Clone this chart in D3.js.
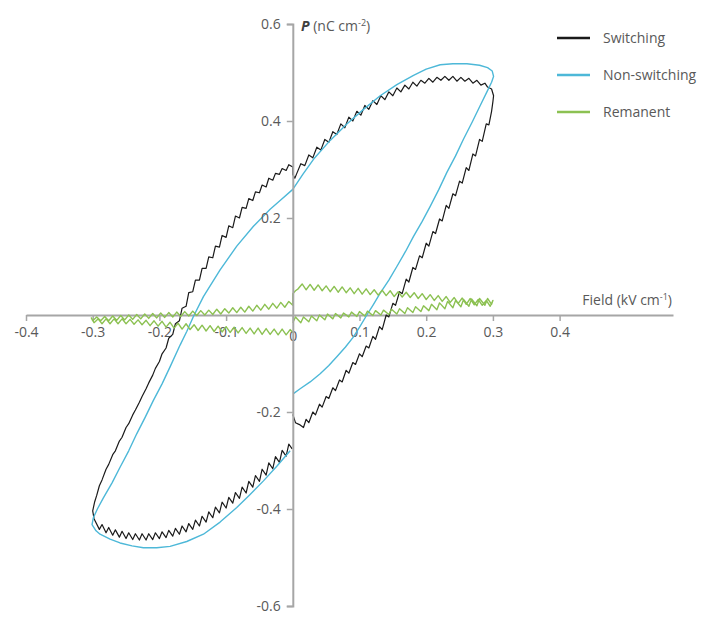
<!DOCTYPE html>
<html>
<head>
<meta charset="utf-8">
<script src="https://cdn.jsdelivr.net/npm/d3@7"></script>
<style>
  body { margin: 0; background: #fff; }
  svg text { font-family: "Open Sans", sans-serif; }
</style>
</head>
<body>
<svg id="chart" width="703" height="618"></svg>
<script>
// tick values
const xTicks = [-0.4, -0.3, -0.2, -0.1, 0, 0.1, 0.2, 0.3, 0.4];
const yTicks = [-0.6, -0.4, -0.2, 0.2, 0.4, 0.6];
const seriesNames = ["Switching", "Non-switching", "Remanent"];

// [field, polarisation], in drawing order
const switching = [
  [0.000,-0.205],[0.004,-0.222],[0.010,-0.226],[0.016,-0.232],[0.020,-0.215],[0.024,-0.222],
  [0.030,-0.200],[0.034,-0.206],[0.040,-0.184],[0.044,-0.190],[0.050,-0.168],[0.054,-0.172],
  [0.060,-0.150],[0.064,-0.156],[0.070,-0.134],[0.074,-0.138],[0.080,-0.114],[0.084,-0.120],
  [0.090,-0.098],[0.094,-0.102],[0.100,-0.080],[0.104,-0.086],[0.110,-0.064],[0.114,-0.068],
  [0.120,-0.044],[0.124,-0.050],[0.130,-0.024],[0.134,-0.030],[0.140,0.000],[0.144,-0.004],
  [0.150,0.024],[0.154,0.020],[0.160,0.048],[0.164,0.044],[0.170,0.074],[0.174,0.068],
  [0.180,0.098],[0.184,0.094],[0.190,0.122],[0.194,0.118],[0.200,0.148],[0.204,0.142],
  [0.210,0.172],[0.214,0.168],[0.220,0.198],[0.224,0.194],[0.230,0.226],[0.234,0.220],
  [0.240,0.250],[0.244,0.246],[0.250,0.276],[0.254,0.272],[0.260,0.304],[0.264,0.298],
  [0.270,0.332],[0.274,0.328],[0.280,0.362],[0.284,0.358],[0.290,0.394],[0.294,0.392],
  [0.298,0.420],[0.300,0.440],[0.301,0.452],
  [0.298,0.466],[0.292,0.470],[0.288,0.478],[0.282,0.474],[0.276,0.484],[0.270,0.478],
  [0.264,0.488],[0.258,0.482],[0.252,0.490],[0.246,0.482],[0.240,0.492],[0.234,0.484],
  [0.228,0.492],[0.222,0.484],[0.216,0.490],[0.210,0.480],[0.204,0.488],[0.198,0.478],
  [0.192,0.484],[0.186,0.472],[0.180,0.480],[0.174,0.466],[0.168,0.474],[0.162,0.460],
  [0.156,0.468],[0.150,0.452],[0.144,0.460],[0.138,0.444],[0.132,0.452],[0.126,0.434],
  [0.120,0.442],[0.114,0.424],[0.108,0.432],[0.102,0.412],[0.096,0.420],[0.090,0.400],
  [0.084,0.408],[0.078,0.386],[0.072,0.394],[0.066,0.372],[0.060,0.378],[0.054,0.356],
  [0.048,0.362],[0.042,0.340],[0.036,0.346],[0.030,0.324],[0.024,0.330],[0.018,0.308],
  [0.012,0.312],[0.006,0.292],[0.003,0.282],[0.000,0.290],
  [0.000,0.305],[-0.006,0.310],[-0.010,0.298],[-0.016,0.302],[-0.020,0.290],[-0.026,0.292],
  [-0.030,0.278],[-0.036,0.282],[-0.040,0.264],[-0.046,0.268],[-0.050,0.252],[-0.056,0.254],
  [-0.060,0.236],[-0.066,0.240],[-0.070,0.220],[-0.076,0.222],[-0.080,0.200],[-0.086,0.204],
  [-0.090,0.180],[-0.096,0.184],[-0.100,0.160],[-0.106,0.164],[-0.110,0.140],[-0.116,0.142],
  [-0.120,0.118],[-0.126,0.120],[-0.130,0.096],[-0.136,0.096],[-0.140,0.072],[-0.146,0.072],
  [-0.150,0.048],[-0.156,0.046],[-0.160,0.018],[-0.166,0.014],[-0.170,-0.012],[-0.176,-0.018],
  [-0.180,-0.040],[-0.186,-0.048],[-0.190,-0.068],[-0.196,-0.080],[-0.200,-0.096],[-0.206,-0.110],
  [-0.210,-0.124],[-0.216,-0.140],[-0.220,-0.152],[-0.226,-0.168],[-0.230,-0.180],[-0.236,-0.196],
  [-0.240,-0.206],[-0.246,-0.224],[-0.250,-0.232],[-0.256,-0.252],[-0.260,-0.260],[-0.266,-0.280],
  [-0.270,-0.288],[-0.276,-0.308],[-0.280,-0.318],[-0.286,-0.340],[-0.290,-0.352],[-0.294,-0.372],
  [-0.297,-0.385],[-0.300,-0.404],[-0.298,-0.420],
  [-0.290,-0.442],[-0.286,-0.432],[-0.280,-0.449],[-0.276,-0.438],[-0.270,-0.454],[-0.266,-0.443],
  [-0.260,-0.458],[-0.256,-0.446],[-0.250,-0.461],[-0.246,-0.449],[-0.240,-0.463],[-0.236,-0.451],
  [-0.230,-0.464],[-0.226,-0.451],[-0.220,-0.464],[-0.216,-0.451],[-0.210,-0.463],[-0.206,-0.449],
  [-0.200,-0.461],[-0.196,-0.447],[-0.190,-0.459],[-0.186,-0.444],[-0.180,-0.456],[-0.176,-0.440],
  [-0.170,-0.452],[-0.166,-0.435],[-0.160,-0.447],[-0.156,-0.430],[-0.150,-0.442],[-0.146,-0.423],
  [-0.140,-0.435],[-0.136,-0.415],[-0.130,-0.427],[-0.126,-0.406],[-0.120,-0.418],[-0.116,-0.396],
  [-0.110,-0.408],[-0.106,-0.386],[-0.100,-0.398],[-0.096,-0.376],[-0.090,-0.388],[-0.086,-0.366],
  [-0.080,-0.378],[-0.076,-0.355],[-0.070,-0.367],[-0.066,-0.343],[-0.060,-0.355],[-0.056,-0.331],
  [-0.050,-0.343],[-0.046,-0.318],[-0.040,-0.330],[-0.036,-0.305],[-0.030,-0.317],[-0.026,-0.292],
  [-0.020,-0.304],[-0.016,-0.279],[-0.010,-0.291],[-0.006,-0.266],[-0.001,-0.276]
];

const nonSwitching = [
  [0.001,-0.162],[0.011,-0.152],[0.026,-0.138],[0.041,-0.121],[0.054,-0.104],[0.066,-0.086],
  [0.079,-0.066],[0.091,-0.045],[0.101,-0.023],[0.111,0.000],[0.121,0.022],[0.131,0.045],
  [0.144,0.072],[0.156,0.100],[0.169,0.131],[0.181,0.162],[0.194,0.193],[0.206,0.224],
  [0.219,0.259],[0.231,0.294],[0.244,0.328],[0.256,0.363],[0.269,0.398],[0.281,0.432],
  [0.291,0.460],[0.298,0.480],[0.301,0.492],[0.299,0.503],[0.292,0.510],[0.280,0.515],
  [0.261,0.518],[0.240,0.518],[0.221,0.516],[0.200,0.507],[0.181,0.494],[0.156,0.475],
  [0.131,0.452],[0.106,0.424],[0.081,0.394],[0.056,0.360],[0.031,0.321],[0.015,0.290],
  [0.000,0.259],[-0.019,0.236],[-0.034,0.218],[-0.059,0.183],[-0.084,0.142],[-0.109,0.093],
  [-0.134,0.038],[-0.149,-0.003],[-0.159,-0.034],[-0.169,-0.062],[-0.184,-0.107],[-0.196,-0.142],
  [-0.209,-0.176],[-0.221,-0.210],[-0.234,-0.245],[-0.246,-0.280],[-0.259,-0.314],[-0.271,-0.346],
  [-0.284,-0.377],[-0.293,-0.400],[-0.299,-0.418],[-0.301,-0.432],[-0.295,-0.445],[-0.289,-0.452],
  [-0.274,-0.462],[-0.259,-0.470],[-0.241,-0.476],[-0.224,-0.480],[-0.204,-0.480],[-0.184,-0.477],
  [-0.159,-0.467],[-0.134,-0.452],[-0.109,-0.427],[-0.084,-0.397],[-0.064,-0.370],[-0.044,-0.342],
  [-0.024,-0.312],[-0.004,-0.280]
];

const remanent = [
  [0.000,-0.016],[0.004,-0.004],[0.012,-0.016],[0.016,-0.004],[0.024,-0.014],[0.028,-0.002],
  [0.036,-0.012],[0.040,0.000],[0.048,-0.010],[0.052,0.002],[0.060,-0.008],[0.064,0.003],
  [0.072,-0.006],[0.076,0.004],[0.084,-0.004],[0.088,0.006],[0.096,-0.003],[0.100,0.007],
  [0.108,-0.002],[0.112,0.008],[0.120,-0.001],[0.124,0.009],[0.132,0.000],[0.136,0.010],
  [0.144,0.001],[0.148,0.012],[0.156,0.002],[0.160,0.013],[0.168,0.003],[0.172,0.015],
  [0.180,0.005],[0.184,0.017],[0.192,0.007],[0.196,0.019],[0.204,0.009],[0.208,0.022],
  [0.216,0.011],[0.220,0.025],[0.228,0.013],[0.232,0.028],[0.240,0.015],[0.244,0.030],
  [0.252,0.017],[0.256,0.032],[0.264,0.018],[0.268,0.033],[0.276,0.019],[0.280,0.034],
  [0.288,0.020],[0.292,0.034],[0.298,0.022],[0.300,0.030],
  [0.296,0.018],[0.290,0.030],[0.284,0.020],[0.278,0.032],[0.272,0.021],[0.266,0.034],
  [0.260,0.022],[0.254,0.035],[0.248,0.024],[0.242,0.036],[0.236,0.026],[0.230,0.038],
  [0.224,0.028],[0.218,0.040],[0.212,0.030],[0.206,0.042],[0.200,0.032],[0.194,0.044],
  [0.188,0.034],[0.182,0.046],[0.176,0.036],[0.170,0.047],[0.164,0.037],[0.158,0.048],
  [0.152,0.038],[0.146,0.050],[0.140,0.040],[0.134,0.051],[0.128,0.041],[0.122,0.052],
  [0.116,0.042],[0.110,0.054],[0.104,0.043],[0.098,0.055],[0.092,0.044],[0.086,0.056],
  [0.080,0.046],[0.074,0.058],[0.068,0.047],[0.062,0.059],[0.056,0.048],[0.050,0.060],
  [0.044,0.050],[0.038,0.062],[0.032,0.051],[0.026,0.063],[0.020,0.052],[0.014,0.064],
  [0.008,0.054],[0.004,0.050],[0.000,0.044],[0.000,0.020],
  [-0.006,0.028],[-0.012,0.016],[-0.018,0.026],[-0.024,0.014],[-0.030,0.024],[-0.036,0.012],
  [-0.042,0.022],[-0.048,0.010],[-0.054,0.020],[-0.060,0.008],[-0.066,0.018],[-0.072,0.006],
  [-0.078,0.016],[-0.084,0.005],[-0.090,0.015],[-0.096,0.004],[-0.102,0.013],[-0.108,0.002],
  [-0.114,0.012],[-0.120,0.001],[-0.126,0.010],[-0.132,0.000],[-0.138,0.009],[-0.144,-0.001],
  [-0.150,0.008],[-0.156,-0.002],[-0.162,0.007],[-0.168,-0.003],[-0.174,0.006],[-0.180,-0.004],
  [-0.186,0.005],[-0.192,-0.005],[-0.198,0.004],[-0.204,-0.006],[-0.210,0.003],[-0.216,-0.007],
  [-0.222,0.002],[-0.228,-0.008],[-0.234,0.001],[-0.240,-0.009],[-0.246,0.000],[-0.252,-0.010],
  [-0.258,-0.001],[-0.264,-0.011],[-0.270,-0.002],[-0.276,-0.012],[-0.282,-0.003],[-0.288,-0.012],
  [-0.294,-0.004],[-0.300,-0.012],[-0.302,-0.006],
  [-0.298,-0.016],[-0.292,-0.008],[-0.286,-0.018],[-0.280,-0.008],[-0.274,-0.018],[-0.268,-0.008],
  [-0.262,-0.018],[-0.256,-0.008],[-0.250,-0.018],[-0.244,-0.009],[-0.238,-0.019],[-0.232,-0.010],
  [-0.226,-0.020],[-0.220,-0.011],[-0.214,-0.022],[-0.208,-0.012],[-0.202,-0.023],[-0.196,-0.013],
  [-0.190,-0.025],[-0.184,-0.015],[-0.178,-0.027],[-0.172,-0.017],[-0.166,-0.029],[-0.160,-0.018],
  [-0.154,-0.030],[-0.148,-0.020],[-0.142,-0.032],[-0.136,-0.021],[-0.130,-0.033],[-0.124,-0.022],
  [-0.118,-0.034],[-0.112,-0.023],[-0.106,-0.035],[-0.100,-0.024],[-0.094,-0.036],[-0.088,-0.025],
  [-0.082,-0.037],[-0.076,-0.026],[-0.070,-0.038],[-0.064,-0.027],[-0.058,-0.039],[-0.052,-0.027],
  [-0.046,-0.040],[-0.040,-0.028],[-0.034,-0.040],[-0.028,-0.029],[-0.022,-0.041],[-0.016,-0.029],
  [-0.010,-0.041],[-0.004,-0.030],[0.000,-0.036]
];

const colors = ["#1a1a1a", "#4db8d8", "#8cc152"];

const svg = d3.select("#chart");
const axisColor = "#a6a6a6";
const textColor = "#595959";

// 比例尺
const x = d3.scaleLinear().domain([-0.4, 0.57]).range([26, 673]);
const y = d3.scaleLinear().domain([-0.6, 0.6]).range([606, 24]);

// x 轴
const xAxis = d3.axisBottom(x)
  .tickValues(xTicks)
  .tickSize(6)
  .tickSizeOuter(0)
  .tickPadding(6)
  .tickFormat(d => d === 0 ? "0" : d.toFixed(1));

const gx = svg.append("g")
  .attr("transform", "translate(0," + y(0) + ")")
  .call(xAxis);
gx.select(".domain").attr("stroke", axisColor).attr("stroke-width", 2);
gx.selectAll(".tick line").attr("stroke", axisColor).attr("stroke-width", 1.5);
gx.selectAll(".tick text")
  .attr("fill", textColor)
  .style("font-size", "14px")
  .filter(d => d === 0)
  .attr("y", 16);

// curves
const line = d3.line()
  .x(d => x(d[0]))
  .y(d => y(d[1]));

[switching, nonSwitching, remanent].forEach((pts, i) => {
  svg.append("path")
    .attr("d", line(pts))
    .attr("fill", "none")
    .attr("stroke", colors[i])
    .attr("stroke-width", i === 0 ? 1.2 : 1.4)
    .attr("stroke-linejoin", "round");
});

// y 轴
const yAxis = d3.axisLeft(y)
  .tickValues(yTicks)
  .tickSize(6)
  .tickSizeOuter(6)
  .tickPadding(6)
  .tickFormat(d => d.toFixed(1));

const gy = svg.append("g")
  .attr("transform", "translate(" + x(0) + ",0)")
  .call(yAxis);
gy.select(".domain").attr("stroke", axisColor).attr("stroke-width", 2);
gy.selectAll(".tick line").attr("stroke", axisColor).attr("stroke-width", 1.5);
gy.selectAll(".tick text").attr("fill", textColor).style("font-size", "14px");

// axis titles
const fieldLabel = svg.append("text")
  .attr("x", 672)
  .attr("y", 305)
  .attr("text-anchor", "end")
  .attr("fill", textColor)
  .style("font-size", "14px");
fieldLabel.append("tspan").text("Field (kV cm");
fieldLabel.append("tspan").attr("dy", -5).style("font-size", "9px").text("-1");
fieldLabel.append("tspan").attr("dy", 5).text(")");

const pLabel = svg.append("text")
  .attr("x", 301)
  .attr("y", 31)
  .attr("fill", textColor)
  .style("font-size", "14px");
pLabel.append("tspan").attr("font-weight", "bold").attr("font-style", "italic").attr("fill", "#404040").text("P");
pLabel.append("tspan").text(" (nC cm");
pLabel.append("tspan").attr("dy", -5).style("font-size", "9px").text("-2");
pLabel.append("tspan").attr("dy", 5).text(")");

// legend
const legend = svg.append("g").attr("transform", "translate(557,38)");
seriesNames.forEach((name, i) => {
  const row = legend.append("g").attr("transform", "translate(0," + (i * 37) + ")");
  row.append("line")
    .attr("x1", 0).attr("x2", 33)
    .attr("stroke", colors[i])
    .attr("stroke-width", 2.5);
  row.append("text")
    .attr("x", 46)
    .attr("dy", "0.35em")
    .attr("fill", textColor)
    .style("font-size", "14px")
    .text(name);
});
</script>
</body>
</html>
